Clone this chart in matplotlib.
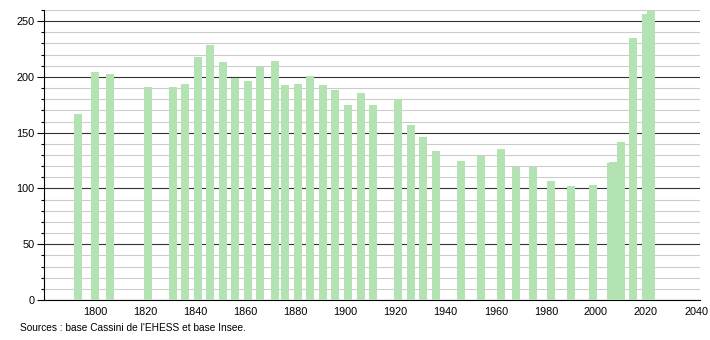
#!/usr/bin/env python3
# -*- coding: utf-8 -*-
# population chart
import matplotlib
matplotlib.use('Agg')
import matplotlib.pyplot as plt
import matplotlib.ticker as mtick

years = [1793, 1800, 1806, 1821, 1831, 1836, 1841, 1846, 1851, 1856,
         1861, 1866, 1872, 1876, 1881, 1886, 1891, 1896, 1901, 1906,
         1911, 1921, 1926, 1931, 1936, 1946, 1954, 1962, 1968, 1975,
         1982, 1990, 1999, 2006, 2007, 2010, 2015, 2020, 2022]
population = [167, 204, 203, 191, 191, 194, 218, 229, 213, 199,
              196, 209, 214, 193, 194, 201, 193, 188, 175, 186,
              175, 180, 157, 146, 134, 125, 129, 135, 119, 119,
              107, 102, 103, 123, 124, 142, 235, 256, 259]
source_text = "Sources : base Cassini de l'EHESS et base Insee."


def draw_population(years, population):
    plt.rcParams['font.family'] = ['Liberation Sans', 'DejaVu Sans']
    fig = plt.figure(figsize=(7.1, 3.4), dpi=100)
    ax = fig.add_axes([0.062, 0.1176, 0.924, 0.853])

    ax.bar(years, population, width=3.2, color='#b3e3b3', zorder=3)

    ax.set_xlim(1779.6, 2041.6)
    ax.set_ylim(0, 260)
    ax.set_xticks(range(1800, 2041, 20))
    ax.yaxis.set_major_locator(mtick.MultipleLocator(50))
    ax.yaxis.set_minor_locator(mtick.MultipleLocator(10))

    ax.grid(which='minor', axis='y', color='#cccccc', linewidth=0.8, zorder=1)
    ax.grid(which='major', axis='y', color='#333333', linewidth=0.8, zorder=2)

    for side in ['top', 'right']:
        ax.spines[side].set_visible(False)
    ax.spines['left'].set_linewidth(0.8)
    ax.spines['bottom'].set_linewidth(0.8)

    ax.tick_params(axis='x', length=0, labelsize=7.8, pad=5)
    ax.tick_params(axis='y', which='major', length=5, width=0.8, labelsize=7.8, pad=2)
    ax.tick_params(axis='y', which='minor', length=2.5, width=0.8)

    fig.text(0.028, 0.02, source_text, fontsize=7.3, ha='left', va='bottom')
    fig.savefig('out.png', dpi=100)


def main():
    draw_population(years, population)


if __name__ == "__main__":
    main()
